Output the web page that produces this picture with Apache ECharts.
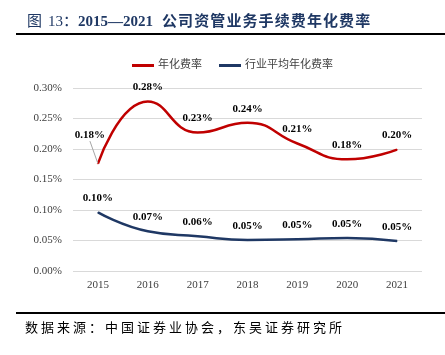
<!DOCTYPE html>
<html><head><meta charset="utf-8">
<script src="https://cdn.jsdelivr.net/npm/echarts@6/dist/echarts.min.js"></script>
<style>html,body{margin:0;padding:0;background:#fff}#c{width:445px;height:355px}</style>
</head><body><div id="c"></div>
<script>
const categories = ['2015','2016','2017','2018','2019','2020','2021'];
const companyRate = [0.176, 0.278, 0.227, 0.243, 0.209, 0.183, 0.199];
const industryRate = [0.096, 0.065, 0.057, 0.051, 0.052, 0.054, 0.049];
const companyLabels = ['0.18%','0.28%','0.23%','0.24%','0.21%','0.18%','0.20%'];
const industryLabels = ['0.10%','0.07%','0.06%','0.05%','0.05%','0.05%','0.05%'];
const titleCn = '公司资管业务手续费年化费率';
const sourceText = '数据来源：中国证券业协会，东吴证券研究所';

const serif = '"Liberation Serif","Times New Roman","Noto Sans CJK SC",serif';
const navy = '#1f3864';

function spaced(str, x0, y, pitch, style) {
  return Array.from(str).map((ch, i) => ({
    type: 'text', x: x0 + i * pitch, y: y,
    style: Object.assign({text: ch, textVerticalAlign: 'middle', verticalAlign: 'middle'}, style)
  }));
}

const graphics = [
  {type:'text', x: 27, y: 22, style:{text:'图', fontFamily: serif, fontSize: 15, fill: navy, verticalAlign:'middle'}},
  {type:'text', x: 48, y: 22, style:{text:'13：', fontFamily: serif, fontSize: 15, fill: navy, verticalAlign:'middle'}},
  {type:'text', x: 78, y: 22, style:{text:'2015—2021', fontFamily: serif, fontSize: 15, fontWeight:'bold', fill: navy, verticalAlign:'middle'}},
  ...spaced(titleCn, 162, 22, 16.1, {fontFamily: serif, fontSize: 15, fontWeight:'bold', fill: navy}),
  {type:'rect', shape:{x:16, y:33, width:429, height:2}, style:{fill:'#000'}},
  {type:'rect', shape:{x:16, y:312, width:429, height:2}, style:{fill:'#000'}},
  ...spaced(sourceText, 25, 329, 16, {fontFamily: serif, fontSize: 13, fill:'#000'})
];

const chart = echarts.init(document.getElementById('c'), null, {renderer:'canvas'});
chart.setOption({
  animation: false,
  backgroundColor: '#fff',
  graphic: graphics,
  legend: {
    top: 60, left: 132, padding: 0,
    itemWidth: 22, itemHeight: 3, itemGap: 17,
    icon: 'rect',
    textStyle: {fontFamily: serif, fontSize: 11, color:'#404040', padding:[0,0,0,-1]},
    data: ['年化费率','行业平均年化费率']
  },
  grid: {left: 73, right: 23, top: 88, bottom: 84},
  xAxis: {
    type: 'category', data: categories, boundaryGap: true,
    axisLine: {show: false}, axisTick: {show: false},
    axisLabel: {fontFamily: serif, fontSize: 11, color:'#404040', margin: 9}
  },
  yAxis: {
    type: 'value', min: 0, max: 0.3, interval: 0.05,
    axisLabel: {fontFamily: serif, fontSize: 11, color:'#404040', margin: 11,
      formatter: v => v.toFixed(2) + '%'},
    splitLine: {lineStyle: {color:'#d9d9d9', width: 1}},
    axisLine: {show: false}, axisTick: {show: false}
  },
  series: [
    {name:'年化费率', type:'line', smooth: true,
     data: companyRate.map((v, i) => ({value: v, labelLine: {show: i === 0}})),
     symbol:'circle', symbolSize: 1, showSymbol: true, itemStyle:{color:'#c00000'},
     color:'#c00000', lineStyle:{width: 2.5, color:'#c00000'},
     label:{show:true, position:'top', distance: 8, fontFamily: serif, fontSize: 11, fontWeight:'bold', color:'#000',
       formatter: p => companyLabels[p.dataIndex]},
     labelLine: {show: false, lineStyle:{color:'#a6a6a6', width: 1}},
     labelLayout: p => p.dataIndex === 0 ? {dy: -14, dx: -8} : {}
    },
    {name:'行业平均年化费率', type:'line', smooth: true, data: industryRate,
     symbol:'circle', symbolSize: 1, showSymbol: true, itemStyle:{color: navy},
     color: navy, lineStyle:{width: 2.5, color: navy},
     label:{show:true, position:'top', distance: 8, fontFamily: serif, fontSize: 11, fontWeight:'bold', color:'#000',
       formatter: p => industryLabels[p.dataIndex]}
    }
  ]
});
</script></body></html>
